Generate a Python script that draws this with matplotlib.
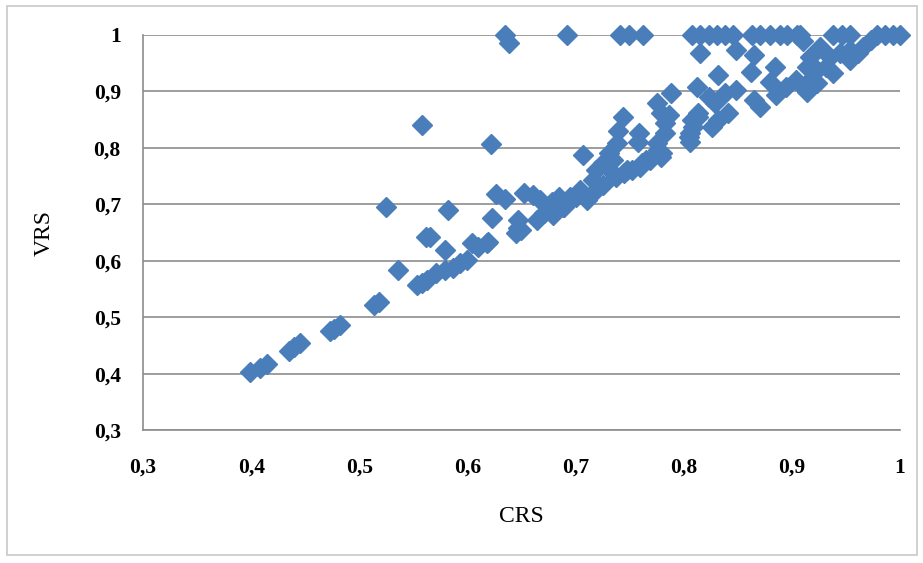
import numpy as np
import matplotlib.pyplot as plt
from matplotlib.ticker import FuncFormatter, MultipleLocator
from matplotlib.patches import Rectangle

# CRS / VRS efficiency scores
crs = [0.399, 0.408, 0.415, 0.435, 0.440, 0.445, 0.473, 0.477, 0.482,
       0.514, 0.518, 0.525, 0.536, 0.553, 0.558, 0.558, 0.562, 0.563,
       0.565, 0.571, 0.579, 0.579, 0.582, 0.587, 0.593, 0.600, 0.604,
       0.610, 0.618, 0.619, 0.622, 0.623, 0.626, 0.635, 0.635, 0.638,
       0.645, 0.647, 0.647, 0.650, 0.652, 0.661, 0.664, 0.667, 0.671,
       0.678, 0.679, 0.685, 0.688, 0.689, 0.692, 0.692, 0.695, 0.700,
       0.704, 0.707, 0.711, 0.716, 0.716, 0.719, 0.725, 0.725, 0.731,
       0.735, 0.735, 0.737, 0.738, 0.739, 0.741, 0.744, 0.745, 0.748,
       0.749, 0.752, 0.758, 0.759, 0.760, 0.761, 0.762, 0.765, 0.769,
       0.775, 0.775, 0.776, 0.779, 0.779, 0.780, 0.783, 0.783, 0.786,
       0.788, 0.805, 0.806, 0.806, 0.808, 0.808, 0.809, 0.812, 0.813,
       0.813, 0.815, 0.815, 0.823, 0.823, 0.826, 0.829, 0.831, 0.832,
       0.832, 0.838, 0.838, 0.841, 0.846, 0.848, 0.848, 0.862, 0.863,
       0.865, 0.865, 0.871, 0.871, 0.880, 0.880, 0.884, 0.885, 0.889,
       0.895, 0.896, 0.904, 0.905, 0.908, 0.910, 0.910, 0.914, 0.914,
       0.917, 0.917, 0.923, 0.923, 0.926, 0.932, 0.935, 0.938, 0.938,
       0.945, 0.946, 0.954, 0.954, 0.954, 0.961, 0.966, 0.973, 0.979,
       0.986, 0.994, 1.000]
vrs = [0.403, 0.410, 0.418, 0.440, 0.447, 0.455, 0.476, 0.480, 0.486,
       0.521, 0.527, 0.696, 0.583, 0.557, 0.560, 0.840, 0.642, 0.566,
       0.642, 0.578, 0.583, 0.619, 0.690, 0.587, 0.596, 0.601, 0.631,
       0.624, 0.631, 0.633, 0.807, 0.675, 0.719, 0.710, 1.000, 0.986,
       0.649, 0.672, 0.658, 0.655, 0.720, 0.716, 0.672, 0.707, 0.684,
       0.704, 0.681, 0.713, 0.695, 0.695, 0.702, 1.000, 0.713, 0.713,
       0.725, 0.787, 0.707, 0.743, 0.720, 0.761, 0.773, 0.734, 0.790,
       0.778, 0.755, 0.749, 0.808, 0.829, 1.000, 0.855, 0.755, 0.761,
       1.000, 0.761, 0.811, 0.826, 0.766, 0.773, 1.000, 0.778, 0.778,
       0.808, 0.879, 0.796, 0.784, 0.862, 0.790, 0.844, 0.826, 0.858,
       0.897, 0.819, 0.826, 0.810, 0.849, 1.000, 0.837, 0.908, 0.862,
       0.855, 1.000, 0.968, 1.000, 0.890, 0.837, 0.879, 1.000, 0.929,
       0.849, 1.000, 0.897, 0.862, 1.000, 0.973, 0.902, 0.934, 1.000,
       0.964, 0.885, 1.000, 0.873, 1.000, 0.917, 0.943, 0.894, 1.000,
       0.908, 1.000, 0.920, 1.000, 1.000, 0.990, 0.908, 0.943, 0.899,
       0.961, 0.920, 0.938, 0.915, 0.979, 0.943, 0.961, 0.932, 1.000,
       0.968, 1.000, 0.973, 0.956, 1.000, 0.968, 0.979, 0.991, 1.000,
       1.000, 1.000, 1.000]

blue = "#4a7ebb"
grid_col = "#8c8c8c"

fig = plt.figure(figsize=(9.23, 5.63), dpi=100)
ax = fig.add_axes([0.155, 0.236, 0.82, 0.702])

ax.plot(crs, vrs, linestyle="none", marker="D", markersize=10.5,
        color=blue, markeredgecolor=blue, clip_on=False, zorder=3)

ax.set_xlim(0.3, 1.0)
ax.set_ylim(0.3, 1.0)
ax.xaxis.set_major_locator(MultipleLocator(0.1))
ax.yaxis.set_major_locator(MultipleLocator(0.1))


def comma_fmt(v, pos):
    if abs(v - round(v)) < 1e-9:
        return f"{int(round(v))}"
    return f"{v:.1f}".replace(".", ",")


ax.xaxis.set_major_formatter(FuncFormatter(comma_fmt))
ax.yaxis.set_major_formatter(FuncFormatter(comma_fmt))

ax.grid(axis="y", color=grid_col, linewidth=1.2)
ax.set_axisbelow(True)
for side in ["top", "right"]:
    ax.spines[side].set_visible(False)
for side in ["left", "bottom"]:
    ax.spines[side].set_color(grid_col)
    ax.spines[side].set_linewidth(1.2)

ax.tick_params(axis="x", length=0, pad=20)
ax.tick_params(axis="y", length=0, pad=16)
for lab in ax.get_xticklabels() + ax.get_yticklabels():
    lab.set_fontfamily("Liberation Serif")
    lab.set_fontweight("bold")
    lab.set_fontsize(15.5)

ax.set_xlabel("CRS", fontfamily="Liberation Serif", fontsize=17, labelpad=20)
ax.set_ylabel("VRS", fontfamily="Liberation Serif", fontsize=17, labelpad=28)

# light frame round the whole chart
fig.patches.append(Rectangle((0.008, 0.014), 0.985, 0.975, transform=fig.transFigure,
                             fill=False, edgecolor="#c8c8c8", linewidth=1.2))

fig.savefig("out.png", dpi=100)
